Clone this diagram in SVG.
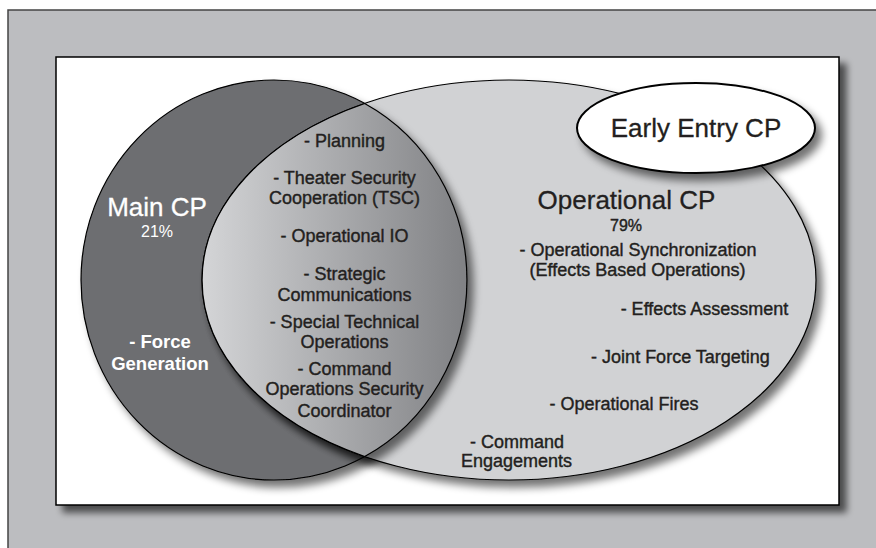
<svg xmlns="http://www.w3.org/2000/svg" width="876" height="548" viewBox="0 0 876 548">
<style>
text{font-family:"Liberation Sans",Arial,Helvetica,sans-serif;text-anchor:middle}
.t{font-size:18px;fill:#231f20;stroke:#231f20;stroke-width:0.4px}
.w{font-size:18.5px;fill:#fff;font-weight:bold}
.big{font-size:26px;stroke-width:0.3px}
.pct{font-size:16px}
.line{stroke:#000;stroke-width:1.2}
</style>
<defs>
<filter id="sh" x="-20%" y="-20%" width="150%" height="150%">
<feGaussianBlur in="SourceAlpha" stdDeviation="4"/>
<feOffset dx="6" dy="7"/>
<feComponentTransfer><feFuncA type="linear" slope="0.55"/></feComponentTransfer>
<feMerge><feMergeNode/><feMergeNode in="SourceGraphic"/></feMerge>
</filter>
<filter id="shp" x="-10%" y="-10%" width="130%" height="130%">
<feGaussianBlur in="SourceAlpha" stdDeviation="3.5"/>
<feOffset dx="7" dy="7"/>
<feComponentTransfer><feFuncA type="linear" slope="0.6"/></feComponentTransfer>
<feMerge><feMergeNode/><feMergeNode in="SourceGraphic"/></feMerge>
</filter>
<linearGradient id="lg" x1="202" y1="0" x2="467" y2="0" gradientUnits="userSpaceOnUse">
<stop offset="0" stop-color="#d4d5d7"/>
<stop offset="1" stop-color="#808184"/>
</linearGradient>
</defs>
<g id="frame">
<rect x="8" y="10" width="900" height="600" fill="#bcbdc0" stroke="#444" stroke-width="1.5"/>
</g>
<g id="panel">
<rect x="56" y="57" width="783" height="448" fill="#fff" stroke="#000" stroke-width="1.5" filter="url(#shp)"/>
</g>
<g id="main-cp">
<ellipse cx="274" cy="280" rx="193" ry="200" fill="#6d6e71" class="line" filter="url(#sh)"/>
</g>
<g id="operational-cp">
<ellipse cx="509" cy="280" rx="307" ry="200" fill="#d1d2d4" class="line" filter="url(#sh)"/>
</g>
<g id="overlap">
<path d="M364.7 103.5 A193 200 0 0 1 364.7 456.5 A307 200 0 0 1 364.7 103.5 Z" fill="url(#lg)" class="line" filter="url(#sh)"/>
</g>
<g id="early-entry-cp">
<ellipse cx="696" cy="128" rx="119" ry="45" fill="#fff" stroke="#000" stroke-width="2" filter="url(#sh)"/>
<text x="696" y="137" class="big" fill="#231f20" stroke="#231f20">Early Entry CP</text>
</g>
<g id="connectors"/>
<g id="main-cp-labels">
<text x="157" y="216" class="big" fill="#fff" stroke="#fff">Main CP</text>
<text x="157" y="237" class="pct" fill="#fff">21%</text>
<text x="160" y="348" class="w">- Force</text>
<text x="160" y="370" class="w">Generation</text>
</g>
<g id="overlap-labels">
<text x="344.5" y="147" class="t">- Planning</text>
<text x="344.5" y="184" class="t">- Theater Security</text>
<text x="344.5" y="204" class="t">Cooperation (TSC)</text>
<text x="344.5" y="242" class="t">- Operational IO</text>
<text x="344.5" y="280" class="t">- Strategic</text>
<text x="344.5" y="301" class="t">Communications</text>
<text x="344.5" y="328" class="t">- Special Technical</text>
<text x="344.5" y="348" class="t">Operations</text>
<text x="344.5" y="375" class="t">- Command</text>
<text x="344.5" y="395" class="t">Operations Security</text>
<text x="344.5" y="417" class="t">Coordinator</text>
</g>
<g id="operational-cp-labels">
<text x="626.5" y="209" class="big" fill="#231f20" stroke="#231f20">Operational CP</text>
<text x="626" y="231" class="pct t">79%</text>
<text x="638" y="256" class="t">- Operational Synchronization</text>
<text x="637.5" y="276" class="t">(Effects Based Operations)</text>
<text x="704.5" y="315" class="t">- Effects Assessment</text>
<text x="680.5" y="363" class="t">- Joint Force Targeting</text>
<text x="624" y="410" class="t">- Operational Fires</text>
<text x="517" y="448" class="t">- Command</text>
<text x="516.5" y="467" class="t">Engagements</text>
</g>
</svg>
